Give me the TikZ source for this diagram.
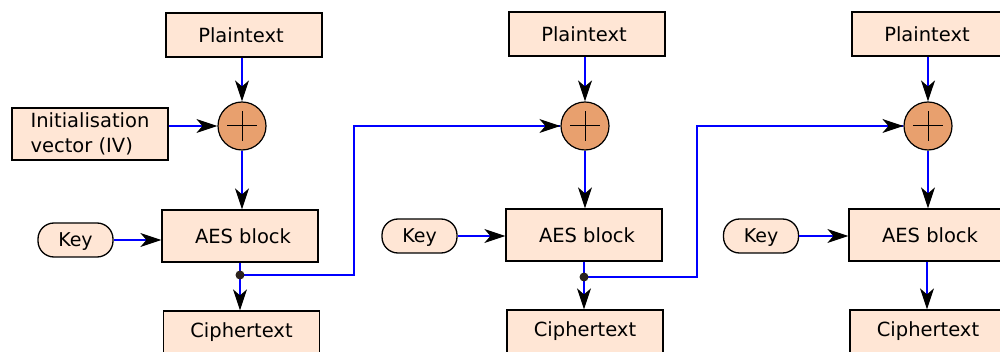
\documentclass[tikz,border=0pt]{standalone}
\usepackage{fontspec}
\setmainfont{DejaVu Sans}
\usetikzlibrary{arrows.meta}
\definecolor{boxfill}{HTML}{FFE6D5}
\definecolor{xorfill}{HTML}{E8A06E}
\definecolor{dotcol}{HTML}{2B221C}
\definecolor{linecol}{HTML}{0000FF}
\begin{document}
\begin{tikzpicture}[x=1pt,y=-1pt,
  blk/.style={draw=black, line width=1.3pt, fill=boxfill, minimum width=156pt, minimum height=44pt, inner sep=0pt, font=\fontsize{19.5}{25}\selectfont},
  tall/.style={blk, minimum height=52pt},
  ctext/.style={blk, text height=14.2pt, text depth=6pt},
  keybox/.style={draw=black, line width=1.3pt, fill=boxfill, minimum width=75pt, minimum height=34pt, inner sep=0pt, rounded corners=16pt, text height=13.2pt, text depth=0pt, font=\fontsize{19}{22}\selectfont},
  xor/.style={draw=black, line width=1.2pt, fill=xorfill, circle, minimum size=48pt, inner sep=0pt},
  conn/.style={linecol, line width=1.3pt, -{Stealth[black,length=21pt,width=14pt,inset=6pt]}},
  wire/.style={linecol, line width=1.3pt},
  dotmark/.style={fill=dotcol},
  cross/.style={black, line width=1pt}
]
\useasboundingbox (0,0) rectangle (1000,352);
\clip (0,0) rectangle (1000,352);

% column 1
\node[blk] (p1) at (244,35) {\kern-6pt Plaintext};
\node[xor] (x1) at (242,126) {};
\node[tall, align=left] (iv) at (90,134) {Initialisation\\vector (IV)};
\node[tall] (a1) at (240,236) {\kern6pt AES block};
\node[keybox] (k1) at (75.5,240) {Key};
\node[ctext] (c1) at (241.5,333) {Ciphertext};
\coordinate (d1) at (240,275);
\coordinate (t1) at (354,275);

% column 2
\node[blk] (p2) at (587,34) {\kern-6pt Plaintext};
\node[xor] (x2) at (585,126) {};
\node[tall] (a2) at (584,235) {\kern6pt AES block};
\node[keybox] (k2) at (419.5,236) {Key};
\node[ctext] (c2) at (585,332) {Ciphertext};
\coordinate (d2) at (584,277);
\coordinate (t2) at (697,277);

% column 3
\node[blk] (p3) at (930,34) {\kern-6pt Plaintext};
\node[xor] (x3) at (928,126) {};
\node[tall] (a3) at (927,235) {\kern6pt AES block};
\node[keybox] (k3) at (761,236) {Key};
\node[ctext] (c3) at (928,332) {Ciphertext};

% plus signs
\foreach \x in {x1,x2,x3}{
  \draw[cross] ([xshift=-15pt]\x.center) -- ([xshift=15pt]\x.center);
  \draw[cross] ([yshift=-15pt]\x.center) -- ([yshift=15pt]\x.center);
}

% connectors column 1
\draw[conn] (p1.south -| x1) -- (x1.north);
\draw[conn] (iv.east |- x1) -- (x1.west);
\draw[conn] (x1.south) -- (x1.south |- a1.north);
\draw[conn] (k1.east) -- (k1.east -| a1.west);
\draw[wire] (a1.south -| d1) -- (d1);
\draw[conn] (d1) -- (d1 |- c1.north);
\draw[wire] (d1) -- (t1) |- (x2.west);
\draw[conn] ([xshift=-30pt]x2.west) -- (x2.west);

% connectors column 2
\draw[conn] (p2.south -| x2) -- (x2.north);
\draw[conn] (x2.south) -- (x2.south |- a2.north);
\draw[conn] (k2.east) -- (k2.east -| a2.west);
\draw[wire] (a2.south -| d2) -- (d2);
\draw[conn] (d2) -- (d2 |- c2.north);
\draw[wire] (d2) -- (t2) |- (x3.west);
\draw[conn] ([xshift=-30pt]x3.west) -- (x3.west);

% connectors column 3
\draw[conn] (p3.south -| x3) -- (x3.north);
\draw[conn] (x3.south) -- (x3.south |- a3.north);
\draw[conn] (k3.east) -- (k3.east -| a3.west);
\draw[conn] (a3.south) -- (a3.south |- c3.north);

% junction dots
\fill[dotmark] (d1) circle (4.5pt);
\fill[dotmark] (d2) circle (4.5pt);
\end{tikzpicture}
\end{document}
